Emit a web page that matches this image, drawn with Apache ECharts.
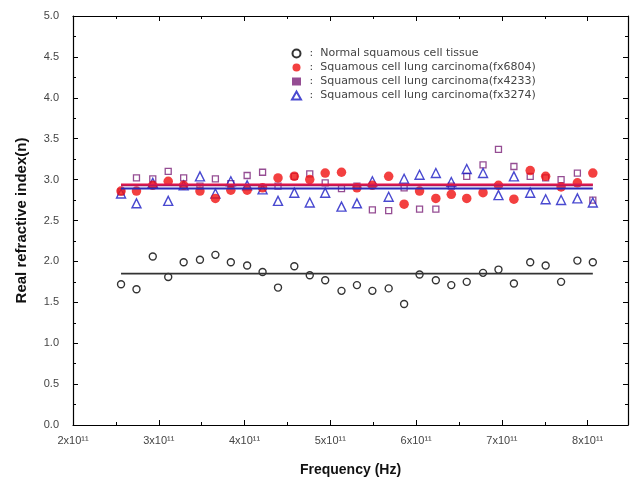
<!DOCTYPE html>
<html style="height: 100%">
<head>
<meta charset="UTF-8" />
<title>Real refractive index</title>
<style>
html, body { margin: 0; padding: 0; background: #ffffff; }
#chartBox { width: 637px; height: 488px; }
</style>
</head>
<body>
	<div id="chartBox"></div>
	<script src="https://cdn.jsdelivr.net/npm/echarts@6/dist/echarts.min.js"></script>
	<script>
		// frequency (x10^11 Hz)
		var freq = [2.56, 2.74, 2.93, 3.11, 3.29, 3.48, 3.66, 3.84, 4.03, 4.21, 4.39,
			4.58, 4.76, 4.94, 5.13, 5.31, 5.49, 5.68, 5.86, 6.04, 6.23,
			6.41, 6.59, 6.78, 6.96, 7.14, 7.33, 7.51, 7.69, 7.88, 8.06];
		// normal squamous cell tissue
		var normal = [1.72, 1.66, 2.06, 1.81, 1.99, 2.02, 2.08, 1.99, 1.95, 1.87, 1.68,
			1.94, 1.83, 1.77, 1.64, 1.71, 1.64, 1.67, 1.48, 1.84, 1.77,
			1.71, 1.75, 1.86, 1.90, 1.73, 1.99, 1.95, 1.75, 2.01, 1.99];
		// carcinoma fx6804
		var fx6804 = [2.86, 2.86, 2.93, 2.98, 2.93, 2.86, 2.77, 2.87, 2.87, 2.90, 3.02,
			3.04, 3.00, 3.08, 3.09, 2.90, 2.93, 3.04, 2.70, 2.86, 2.77,
			2.82, 2.77, 2.84, 2.93, 2.76, 3.11, 3.04, 2.91, 2.96, 3.08];
		// carcinoma fx4233
		var fx4233 = [2.85, 3.02, 3.01, 3.10, 3.02, 2.92, 3.01, 2.95, 3.05, 3.09, 2.92,
			3.04, 3.07, 2.96, 2.89, 2.92, 2.63, 2.62, 2.90, 2.64, 2.64,
			2.92, 3.04, 3.18, 3.37, 3.16, 3.04, 3.02, 3.00, 3.08, 2.75];
		// carcinoma fx3274
		var fx3274 = [2.83, 2.71, 2.96, 2.74, 2.93, 3.04, 2.83, 2.98, 2.93, 2.88, 2.74,
			2.84, 2.72, 2.84, 2.67, 2.71, 2.98, 2.79, 3.01, 3.06, 3.08,
			2.97, 3.13, 3.08, 2.81, 3.04, 2.84, 2.76, 2.75, 2.77, 2.72];
		// mean lines
		var meanNormal = 1.85, meanFx6804 = 2.94, meanFx4233 = 2.93, meanFx3274 = 2.89;

		var names = ['Normal squamous cell tissue',
			'Squamous cell lung carcinoma(fx6804)',
			'Squamous cell lung carcinoma(fx4233)',
			'Squamous cell lung carcinoma(fx3274)'];

		function pairs(arr) {
			return freq.map(function(f, i) { return [f, arr[i]]; });
		}
		function meanLine(m) {
			return [[freq[0], m], [freq[freq.length - 1], m]];
		}
		function lineSeries(m, color, width) {
			return {
				type : 'line',
				data : meanLine(m),
				symbol : 'none',
				silent : true,
				lineStyle : { color : color, width : width }
			};
		}

		var myChart = echarts.init(document.getElementById('chartBox'));
		var tickStyle = { color : '#000', width : 1 };
		var xBase = {
			type : 'value', min : 2, max : 8.47, interval : 1,
			axisLine : { show : true, onZero : false, lineStyle : { color : '#000', width : 1.2 } },
			axisTick : { inside : true, length : 5, lineStyle : tickStyle },
			minorTick : { show : true, splitNumber : 2, length : 3, lineStyle : tickStyle },
			splitLine : { show : false }
		};
		var yBase = {
			type : 'value', min : 0, max : 5, interval : 0.5,
			axisLine : { show : true, onZero : false, lineStyle : { color : '#000', width : 1.2 } },
			axisTick : { inside : true, length : 5, lineStyle : tickStyle },
			minorTick : { show : true, splitNumber : 2, length : 3, lineStyle : tickStyle },
			splitLine : { show : false }
		};

		option = {
			animation : false,
			backgroundColor : '#ffffff',
			grid : { left : 73, right : 9, top : 16, bottom : 63 },
			legend : {
				orient : 'vertical',
				left : 286,
				top : 42,
				itemWidth : 9,
				itemHeight : 8,
				itemGap : 1,
				data : [
					{ name : names[0] },
					{ name : names[1] },
					{ name : names[2], icon : 'rect', itemStyle : { color : '#7a2078', borderWidth : 0 } },
					{ name : names[3] }
				],
				formatter : function(n) { return ' :  ' + n; },
				textStyle : { fontFamily : 'DejaVu Sans', fontSize : 11, color : '#444', lineHeight : 13 }
			},
			xAxis : [
				Object.assign({}, xBase, {
					position : 'bottom',
					name : 'Frequency (Hz)',
					nameLocation : 'middle',
					nameGap : 38,
					nameTextStyle : { fontFamily : 'Liberation Sans', fontSize : 14, fontWeight : 'bold', color : '#111' },
					axisLabel : {
						showMaxLabel : false,
						margin : 10,
						fontFamily : 'Liberation Sans', fontSize : 11, color : '#444',
						formatter : function(v) { return Math.round(v) + 'x10\u00b9\u00b9'; }
					}
				}),
				Object.assign({}, xBase, { position : 'top', axisLabel : { show : false } })
			],
			yAxis : [
				Object.assign({}, yBase, {
					position : 'left',
					name : 'Real refractive index(n)',
					nameLocation : 'middle',
					nameGap : 44,
					nameTextStyle : { fontFamily : 'Liberation Sans', fontSize : 15, fontWeight : 'bold', color : '#111' },
					axisLabel : {
						margin : 14,
						fontFamily : 'Liberation Sans', fontSize : 11, color : '#444',
						formatter : function(v) { return v.toFixed(1); }
					}
				}),
				Object.assign({}, yBase, { position : 'right', axisLabel : { show : false } })
			],
			series : [
				lineSeries(meanNormal, '#333333', 1.8),
				lineSeries(meanFx3274, '#2a2ab8', 2),
				lineSeries(meanFx4233, '#8a1f6a', 2),
				lineSeries(meanFx6804, '#e0154a', 2),
				{
					name : names[0], type : 'scatter', data : pairs(normal),
					symbol : 'circle', symbolSize : 7,
					itemStyle : { color : 'rgba(255,255,255,0)', borderColor : '#000', borderWidth : 1.4 }
				},
				{
					name : names[2], type : 'scatter', data : pairs(fx4233),
					symbol : 'rect', symbolSize : 6,
					itemStyle : { color : 'rgba(255,255,255,0)', borderColor : '#7a2078', borderWidth : 1.3 }
				},
				{
					name : names[3], type : 'scatter', data : pairs(fx3274),
					symbol : 'triangle', symbolSize : 9,
					itemStyle : { color : 'rgba(255,255,255,0)', borderColor : '#1c1cc4', borderWidth : 1.4 }
				},
				{
					name : names[1], type : 'scatter', data : pairs(fx6804),
					symbol : 'circle', symbolSize : 9.5,
					itemStyle : { color : '#f01010' }
				}
			]
		};
		myChart.setOption(option);
	</script>
</body>
</html>
